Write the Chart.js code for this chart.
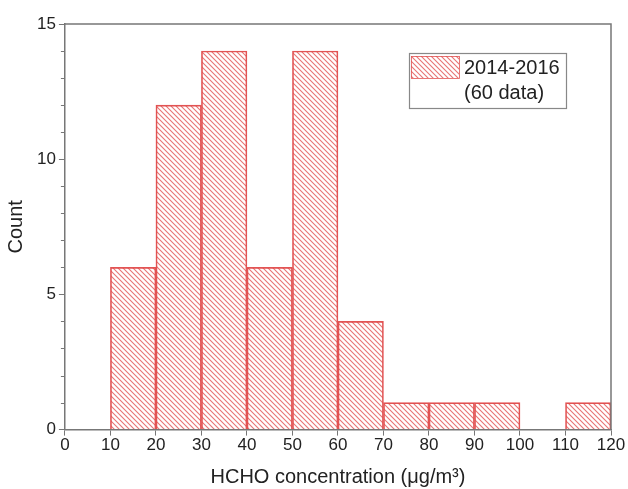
<!DOCTYPE html>
<html lang="en">
<head>
<meta charset="UTF-8" />
<title>HCHO histogram</title>
<script src="https://cdn.jsdelivr.net/npm/chart.js"></script>
<style>
  html, body { margin: 0; padding: 0; background: #fff; }
  #wrap { width: 628px; height: 489px; }
</style>
</head>
<body>
<div id="wrap"><canvas id="hist" width="628" height="489"></canvas></div>
<script>
// bin centres (10-unit bins) and counts
const binCenters = [15, 25, 35, 45, 55, 65, 75, 85, 95, 115];
const counts = [6, 12, 14, 6, 14, 4, 1, 1, 1, 1];
const seriesLabel = ["2014-2016", "(60 data)"];
const xTitle = "HCHO concentration (\u03bcg/m\u00b3)";
const yTitle = "Count";

const RED = "rgb(226, 84, 84)";
const FONT = "'Liberation Sans', Arial, sans-serif";

function hatch() {
  const c = document.createElement("canvas");
  c.width = 5; c.height = 5;
  const g = c.getContext("2d");
  g.strokeStyle = "rgba(224, 70, 70, 0.75)";
  g.lineWidth = 1.1;
  g.beginPath();
  g.moveTo(-1, -1); g.lineTo(6, 6);
  g.moveTo(-1, 4); g.lineTo(1, 6);
  g.moveTo(4, -1); g.lineTo(6, 1);
  g.stroke();
  return g.createPattern(c, "repeat");
}

const ctx = document.getElementById("hist").getContext("2d");
const pattern = hatch();

// frame on top/right, minor y ticks, and the legend box
const extras = {
  id: "extras",
  afterDraw(chart) {
    const { ctx, chartArea: a, scales } = chart;
    ctx.save();
    ctx.strokeStyle = "#777";
    ctx.lineWidth = 1.5;
    ctx.beginPath();
    ctx.moveTo(a.left, a.top); ctx.lineTo(a.right, a.top);
    ctx.lineTo(a.right, a.bottom);
    ctx.stroke();

    ctx.lineWidth = 1;
    ctx.beginPath();
    for (let v = 0; v <= 15; v++) {
      if (v % 5 === 0) continue;
      const y = Math.round(scales.y.getPixelForValue(v)) + 0.5;
      ctx.moveTo(a.left - 4, y); ctx.lineTo(a.left, y);
    }
    ctx.stroke();

    // legend
    const lx = 409, ly = 53, lw = 157, lh = 55;
    ctx.strokeStyle = "#888";
    ctx.lineWidth = 1.2;
    ctx.strokeRect(lx + 0.5, ly + 0.5, lw, lh);
    ctx.fillStyle = pattern;
    ctx.fillRect(lx + 2, ly + 3, 48, 22);
    ctx.strokeStyle = RED;
    ctx.lineWidth = 0.8;
    ctx.strokeRect(lx + 2.5, ly + 3.5, 48, 22);
    ctx.fillStyle = "#222";
    ctx.font = "20px " + FONT;
    ctx.textBaseline = "middle";
    ctx.fillText(seriesLabel[0], lx + 55, ly + 15);
    ctx.fillText(seriesLabel[1], lx + 55, ly + 40);
    ctx.restore();
  }
};

new Chart(ctx, {
  type: "bar",
  data: {
    datasets: [{
      label: seriesLabel.join(" "),
      data: binCenters.map((x, i) => ({ x: x, y: counts[i] })),
      backgroundColor: pattern,
      borderColor: RED,
      borderWidth: 1,
      barPercentage: 1,
      categoryPercentage: 1
    }]
  },
  options: {
    responsive: false,
    animation: false,
    layout: { padding: { top: 24, right: 17, left: 4, bottom: 0 } },
    plugins: { legend: { display: false }, tooltip: { enabled: false } },
    scales: {
      x: {
        type: "linear",
        min: 0, max: 120,
        offset: false,
        ticks: { stepSize: 10, color: "#222", font: { family: FONT, size: 17 }, padding: 0, maxRotation: 0 },
        grid: { display: true, offset: false, drawOnChartArea: false, tickLength: 6, color: "#777" },
        border: { display: true, color: "#777", width: 1.5 },
        title: { display: true, text: xTitle, color: "#222", font: { family: FONT, size: 20 }, padding: { top: 9, bottom: 0 } }
      },
      y: {
        min: 0, max: 15,
        ticks: { stepSize: 5, color: "#222", font: { family: FONT, size: 17 }, padding: 3 },
        grid: { display: true, drawOnChartArea: false, tickLength: 6, color: "#777" },
        border: { display: true, color: "#777", width: 1.5 },
        title: { display: true, text: yTitle, color: "#222", font: { family: FONT, size: 20 }, padding: { top: 0, bottom: 6 } }
      }
    }
  },
  plugins: [extras]
});
</script>
</body>
</html>
